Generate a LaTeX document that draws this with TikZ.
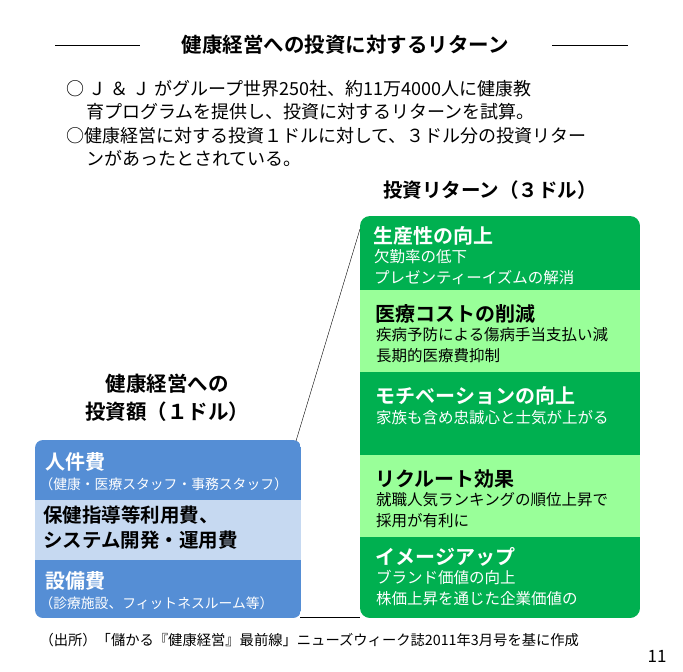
\documentclass[tikz,border=0pt]{standalone}
\usepackage{fontspec}
\setmainfont{Noto Sans CJK JP}[BoldFont={Noto Sans CJK JP Bold}]
\begin{document}
\begin{tikzpicture}[x=1pt,y=-1pt,
  hd/.style={anchor=west,font=\fontsize{20}{22}\selectfont\bfseries},
  sub/.style={anchor=north west,font=\fontsize{15.5}{21}\selectfont,align=left,inner sep=0pt},
  body/.style={anchor=west}]
\useasboundingbox (0,0) rectangle (683,672);
\definecolor{dg}{HTML}{00B050}\definecolor{lg}{HTML}{99FF99}
\definecolor{db}{HTML}{558ED5}\definecolor{lb}{HTML}{C6D9F1}
% title
\node (t) at (345,45) {\fontsize{20.5}{22}\selectfont\bfseries 健康経営への投資に対するリターン};
\coordinate (l1) at (55,45); \coordinate (l2) at (140,45);
\coordinate (r1) at (552,45); \coordinate (r2) at (628,45);
\draw (l1) -- (l2); \draw (r1) -- (r2);
\node[anchor=north west,align=left,inner sep=0pt,font=\fontsize{18}{23.5}\selectfont] (b) at (66,80)
{○ Ｊ ＆ Ｊ がグループ世界250社、約11万4000人に健康教\\
\hspace*{1.1em}育プログラムを提供し、投資に対するリターンを試算。\\
○健康経営に対する投資１ドルに対して、３ドル分の投資リター\\
\hspace*{1.1em}ンがあったとされている。};
\node (rt) at (490,190) {\fontsize{19.5}{22}\selectfont\bfseries 投資リターン（３ドル）};
\node[align=center,font=\fontsize{20.5}{28}\selectfont\bfseries] (lt) at (167,398) {健康経営への\\投資額（１ドル）};
% green box
\begin{scope}
\clip[rounded corners=10pt] (360,216) rectangle (640,618);
\fill[dg] (360,216) rectangle (640,290);
\fill[lg] (360,290) rectangle (640,372);
\fill[dg] (360,372) rectangle (640,455);
\fill[lg] (360,455) rectangle (640,537);
\fill[dg] (360,537) rectangle (640,618);
\end{scope}
\node[hd,text=white] (g1) at (370,236) {生産性の向上};
\node[sub,text=white] (g1s) at (374,249) {欠勤率の低下\\プレゼンティーイズムの解消};
\node[hd] (g2) at (372,314) {医療コストの削減};
\node[sub] (g2s) at (376,327) {疾病予防による傷病手当支払い減\\長期的医療費抑制};
\node[hd,text=white] (g3) at (372,396) {モチベーションの向上};
\node[sub,text=white] (g3s) at (376,410) {家族も含め忠誠心と士気が上がる};
\node[hd] (g4) at (372,479) {リクルート効果};
\node[sub] (g4s) at (376,492) {就職人気ランキングの順位上昇で\\採用が有利に};
\node[hd,text=white] (g5) at (372,557) {イメージアップ};
\node[sub,text=white] (g5s) at (376,570) {ブランド価値の向上\\株価上昇を通じた企業価値の};
% blue box
\begin{scope}
\clip[rounded corners=8pt] (35,440) rectangle (301,618);
\fill[db] (35,440) rectangle (301,500);
\fill[lb] (35,500) rectangle (301,560);
\fill[db] (35,560) rectangle (301,618);
\end{scope}
\node[body,text=white,font=\fontsize{20}{22}\selectfont\bfseries] (p1) at (42,462) {人件費};
\node[body,text=white,font=\fontsize{13.8}{15}\selectfont] (p1s) at (36,484) {（健康・医療スタッフ・事務スタッフ）};
\node[anchor=north west,align=left,inner sep=0pt,font=\fontsize{19.5}{25}\selectfont\bfseries] (p2) at (43,506) {保健指導等利用費、\\システム開発・運用費};
\node[body,text=white,font=\fontsize{20}{22}\selectfont\bfseries] (p3) at (42,581) {設備費};
\node[body,text=white,font=\fontsize{13.8}{15}\selectfont] (p3s) at (36,603) {（診療施設、フィットネスルーム等）};
% connectors
\coordinate (a1) at (296,441); \coordinate (a2) at (360,229);
\coordinate (c1) at (300,617); \coordinate (c2) at (360,617);
\draw (a1) -- (a2); \draw[line width=1pt] (c1) -- (c2);
\node[anchor=west,font=\fontsize{14.3}{16}\selectfont] (f) at (36,640) {（出所）「儲かる『健康経営』最前線」ニューズウィーク誌2011年3月号を基に作成};
\node[font=\fontsize{17}{18}\selectfont] (n) at (657,656) {11};
\end{tikzpicture}
\end{document}
